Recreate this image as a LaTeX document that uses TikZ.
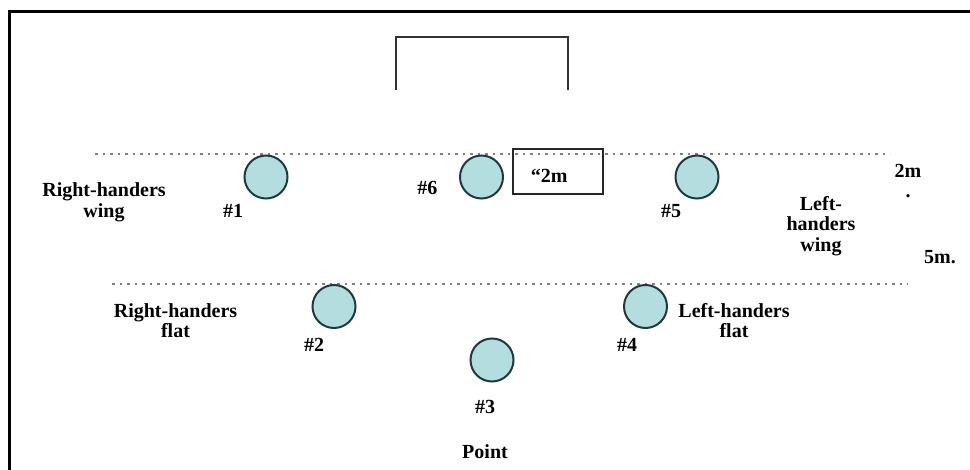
\documentclass[tikz,border=0pt]{standalone}
\usepackage{fontspec}
\setmainfont{Liberation Serif}
\usetikzlibrary{positioning}
\definecolor{playerfill}{HTML}{B4DDE0}
\definecolor{playerline}{HTML}{1E3A3C}

\begin{document}
\begin{tikzpicture}[x=1pt,y=-1pt,
  player/.style={circle,draw=playerline,line width=2pt,fill=playerfill,minimum size=43pt,inner sep=0pt},
  num/.style={inner sep=0pt,font=\fontsize{20}{21}\selectfont\bfseries},
  zone/.style={inner sep=0pt,align=center,font=\fontsize{20}{20.5}\selectfont\bfseries},
  lineup/.style={draw=gray,line width=2.6pt,dash pattern=on 2.6pt off 4.9pt},
  goalbox/.style={draw=black!85,line width=1.6pt,minimum height=45pt,text width=54pt,text height=22pt,inner xsep=18pt,align=left,font=\fontsize{20}{21}\selectfont\bfseries}]

  \useasboundingbox (0,0) rectangle (970,470);

  % Frame
  \draw[line width=3pt] (9,472) -- (9,11.5) -- (972,11.5);

  % Goal
  \coordinate (gbl) at (396,90);
  \coordinate (gtl) at (396,37);
  \coordinate (gtr) at (568,37);
  \coordinate (gbr) at (568,90);
  \draw[black!80,line width=2.2pt] (gbl) -- (gtl) -- (gtr) -- (gbr);

  % Lines
  \coordinate (wl) at (95,154);
  \coordinate (wr) at (890,154);
  \coordinate (fl) at (112,284);
  \coordinate (fr) at (908,284);
  \draw[lineup] (wl) -- (wr);
  \draw[lineup] (fl) -- (fr);

  % Players
  \node[player] (p1) at (266,177) {};
  \node[player] (p6) at (481.5,177) {};
  \node[player] (p5) at (697,177) {};
  \node[player] (p2) at (334,306.5) {};
  \node[player] (p4) at (645.5,306.5) {};
  \node[player] (p3) at (492,360) {};

  \node[goalbox,anchor=west] (twom) at (512,171.5) {“2m};

  % Numbers
  \node[num,below=5pt of p1,xshift=-33pt] (n1) {\#1};
  \node[num,left=21.5pt of p6,yshift=-11pt] (n6) {\#6};
  \node[num,below=5pt of p5,xshift=-26pt] (n5) {\#5};
  \node[num,below=9.5pt of p2,xshift=-20pt] (n2) {\#2};
  \node[num,below=9.5pt of p4,xshift=-18.5pt] (n4) {\#4};
  \node[num,below=18pt of p3,xshift=-7pt] (n3) {\#3};

  % Zones
  \node[zone] (rw) at (104,202.5) {Right-handers\\wing};
  \node[zone] (lw) at (821,226) {Left-\\handers\\wing};
  \node[zone] (rf) at (175.5,320.5) {Right-handers\\flat};
  \node[zone] (lf) at (734,320.5) {Left-handers\\flat};
  \node[zone,below=30pt of n3] (pt) {Point};
  \node[zone] (d2) at (908,181) {2m\\.};
  \node[zone] (d5) at (940,257.5) {5m.};

\end{tikzpicture}
\end{document}
